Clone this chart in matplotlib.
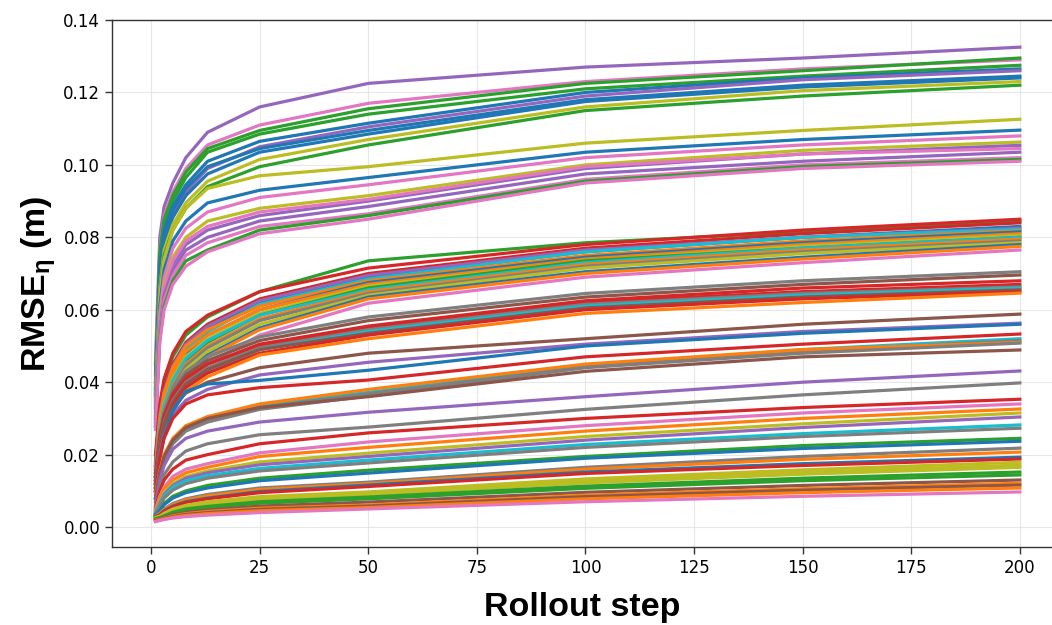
import numpy as np
import matplotlib
matplotlib.use('Agg')
import matplotlib.pyplot as plt

plt.rcParams['mathtext.fontset'] = 'custom'
plt.rcParams['mathtext.rm'] = 'Liberation Sans:bold'
plt.rcParams['mathtext.it'] = 'Liberation Sans:bold'
plt.rcParams['mathtext.default'] = 'rm'

steps = [1, 2, 3, 5, 8, 13, 25, 50, 100, 150, 200]

# RMSE values in units of 1e-4 m, one row per run
upper_runs = [
    [450, 800, 885, 950, 1020, 1090, 1160, 1225, 1270, 1295, 1325],
    [420, 770, 860, 925, 990, 1055, 1110, 1170, 1230, 1265, 1290],
    [400, 760, 850, 915, 980, 1045, 1095, 1155, 1225, 1260, 1295],
    [385, 740, 835, 900, 965, 1035, 1085, 1140, 1210, 1245, 1275],
    [380, 720, 820, 885, 945, 1010, 1065, 1115, 1200, 1240, 1265],
    [365, 700, 800, 865, 925, 990, 1050, 1105, 1190, 1235, 1260],
    [370, 710, 810, 875, 935, 995, 1045, 1095, 1180, 1220, 1245],
    [360, 690, 790, 855, 915, 975, 1035, 1085, 1175, 1215, 1240],
    [350, 660, 765, 835, 895, 955, 1015, 1070, 1160, 1205, 1230],
    [340, 650, 750, 820, 880, 940, 995, 1055, 1150, 1190, 1220],
    [350, 640, 740, 820, 880, 935, 970, 995, 1060, 1095, 1126],
    [330, 610, 710, 790, 845, 895, 930, 965, 1035, 1070, 1096],
    [320, 590, 690, 770, 825, 870, 910, 945, 1020, 1055, 1080],
    [310, 570, 670, 745, 800, 845, 880, 915, 1000, 1040, 1063],
    [300, 550, 650, 725, 780, 820, 860, 900, 990, 1030, 1054],
    [300, 560, 660, 735, 790, 830, 870, 905, 995, 1030, 1045],
    [290, 540, 640, 710, 765, 800, 845, 885, 975, 1010, 1035],
    [280, 530, 625, 695, 750, 785, 830, 865, 960, 1000, 1020],
    [280, 520, 610, 680, 735, 765, 820, 860, 955, 995, 1015],
    [270, 510, 600, 670, 720, 760, 810, 850, 950, 990, 1010],
]
upper_colors = ['purple', 'pink', 'green', 'green', 'blue', 'purple', 'blue',
                'blue', 'olive', 'green', 'olive', 'blue', 'pink', 'olive',
                'purple', 'pink', 'purple', 'pink', 'green', 'pink']

middle_runs = [
    [180, 330, 400, 470, 530, 580, 650, 735, 785, 815, 845],
    [200, 340, 410, 480, 540, 585, 650, 715, 780, 820, 850],
    [170, 310, 380, 450, 510, 560, 630, 700, 770, 810, 840],
    [160, 300, 370, 440, 500, 550, 620, 690, 760, 800, 830],
    [170, 310, 375, 445, 505, 555, 625, 695, 765, 800, 825],
    [150, 290, 360, 430, 490, 540, 615, 685, 760, 800, 822],
    [160, 300, 370, 440, 500, 545, 610, 680, 750, 790, 818],
    [140, 280, 350, 420, 480, 530, 600, 675, 745, 785, 815],
    [150, 290, 355, 425, 485, 530, 600, 670, 740, 780, 810],
    [140, 270, 340, 410, 470, 520, 590, 665, 735, 775, 805],
    [130, 260, 330, 400, 460, 510, 585, 660, 735, 770, 800],
    [140, 270, 335, 405, 465, 515, 585, 655, 730, 770, 800],
    [130, 255, 320, 390, 450, 500, 575, 650, 725, 765, 795],
    [130, 250, 315, 385, 445, 495, 570, 645, 720, 760, 790],
    [120, 240, 305, 375, 435, 485, 560, 640, 715, 755, 785],
    [120, 235, 300, 365, 425, 475, 550, 635, 705, 745, 780],
    [110, 230, 295, 360, 420, 470, 545, 630, 700, 740, 775],
    [100, 215, 280, 340, 400, 450, 530, 618, 690, 730, 765],
]
middle_colors = ['green', 'red', 'red', 'blue', 'purple', 'cyan', 'orange',
                 'blue', 'orange', 'olive', 'green', 'cyan', 'orange', 'gray',
                 'olive', 'blue', 'orange', 'pink']

lower_runs = [
    [150, 260, 320, 380, 430, 470, 525, 580, 645, 680, 705],
    [140, 250, 310, 370, 420, 460, 515, 570, 635, 670, 696],
    [130, 240, 300, 360, 410, 450, 505, 555, 625, 660, 680],
    [140, 250, 305, 365, 410, 450, 500, 550, 620, 650, 670],
    [120, 230, 290, 350, 400, 440, 495, 545, 615, 645, 663],
    [110, 220, 280, 340, 390, 430, 490, 540, 610, 640, 660],
    [120, 225, 285, 345, 395, 435, 490, 535, 605, 635, 655],
    [110, 215, 275, 335, 385, 425, 480, 530, 600, 630, 650],
    [100, 205, 265, 325, 375, 415, 475, 520, 590, 620, 646],
    [120, 220, 280, 330, 370, 400, 440, 480, 520, 560, 588],
    [110, 200, 255, 310, 350, 380, 420, 455, 505, 540, 563],
    [100, 190, 250, 320, 375, 395, 405, 433, 500, 535, 560],
    [100, 190, 245, 300, 340, 365, 385, 406, 470, 505, 533],
    [80, 150, 195, 240, 275, 300, 335, 372, 445, 490, 520],
    [80, 145, 190, 235, 270, 295, 330, 368, 442, 485, 515],
    [90, 155, 200, 245, 280, 305, 340, 380, 450, 490, 510],
    [70, 140, 185, 230, 265, 290, 325, 362, 440, 480, 508],
    [80, 150, 195, 240, 275, 300, 330, 360, 430, 470, 489],
]
lower_colors = ['gray', 'brown', 'red', 'red', 'gray', 'cyan', 'brown', 'red',
                'orange', 'brown', 'purple', 'blue', 'red', 'cyan', 'gray',
                'orange', 'gray', 'brown']

bottom_runs = [
    [60, 130, 170, 215, 245, 265, 290, 317, 360, 400, 431],
    [55, 110, 145, 180, 210, 230, 255, 276, 325, 365, 398],
    [50, 100, 130, 160, 185, 200, 230, 260, 300, 330, 353],
    [48, 85, 110, 140, 160, 175, 205, 235, 280, 315, 340],
    [45, 80, 105, 130, 150, 165, 195, 220, 265, 300, 326],
    [42, 70, 95, 120, 140, 155, 180, 204, 250, 285, 315],
    [40, 65, 90, 115, 135, 150, 172, 195, 240, 275, 304],
    [38, 60, 85, 110, 128, 142, 162, 185, 228, 258, 282],
    [36, 55, 80, 102, 120, 135, 155, 177, 220, 250, 273],
    [34, 45, 65, 85, 100, 115, 135, 157, 195, 225, 245],
    [33, 45, 62, 80, 95, 108, 128, 149, 190, 217, 237],
    [31, 38, 50, 65, 78, 90, 108, 124, 165, 195, 218],
    [30, 37, 48, 62, 75, 86, 104, 120, 160, 187, 207],
    [29, 34, 45, 58, 70, 80, 98, 116, 152, 175, 193],
    [28, 33, 43, 56, 68, 78, 95, 112, 148, 170, 188],
    [26, 30, 38, 50, 60, 70, 84, 97, 133, 158, 179],
    [25, 29, 36, 47, 57, 66, 80, 93, 127, 151, 171],
    [24, 28, 34, 45, 55, 63, 77, 90, 122, 146, 165],
    [23, 26, 31, 41, 50, 57, 70, 83, 113, 135, 152],
    [22, 25, 29, 38, 47, 54, 66, 78, 107, 128, 144],
    [20, 23, 27, 34, 41, 47, 58, 69, 96, 115, 130],
    [19, 21, 25, 31, 37, 43, 52, 61, 88, 106, 121],
    [18, 20, 24, 29, 35, 40, 49, 58, 84, 102, 116],
    [16, 19, 22, 27, 32, 37, 45, 54, 78, 95, 108],
    [15, 18, 21, 25, 29, 33, 40, 50, 70, 85, 97],
]
bottom_colors = ['purple', 'gray', 'red', 'pink', 'orange', 'olive', 'purple',
                 'cyan', 'gray', 'green', 'blue', 'gray', 'orange', 'blue',
                 'red', 'olive', 'olive', 'olive', 'green', 'green', 'brown',
                 'orange', 'brown', 'orange', 'pink']

fig = plt.figure(figsize=(10.52, 6.25), dpi=100)
ax = fig.add_axes([112/1052, 78/625, 940/1052, 527/625])

for runs, cols in [(upper_runs, upper_colors), (middle_runs, middle_colors),
                   (lower_runs, lower_colors), (bottom_runs, bottom_colors)]:
    for vals, c in zip(runs, cols):
        ax.plot(steps, np.array(vals) * 1e-4, color='tab:' + c, lw=2.3)

ax.set_xlim(-9.0, 207.4)
ax.set_ylim(-0.0055, 0.14)
ax.set_xticks(np.arange(0, 201, 25))
ax.set_yticks(np.arange(0, 0.141, 0.02))
ax.yaxis.set_major_formatter(plt.FormatStrFormatter('%.2f'))
ax.grid(True, color='#dddddd', lw=0.8, alpha=0.7)
ax.set_axisbelow(True)
ax.tick_params(labelsize=12, length=5, width=1, color='0.2', top=False, right=False)
for side in ['left', 'bottom', 'top']:
    ax.spines[side].set_color('0.2')
    ax.spines[side].set_linewidth(1.0)
ax.spines['right'].set_visible(False)

ax.set_xlabel('Rollout step', fontsize=24.5, fontweight='bold',
              family='Liberation Sans', labelpad=11)
ax.set_ylabel(r'RMSE$_{η}$ (m)', fontsize=24.5, fontweight='bold',
              family='Liberation Sans', labelpad=4)

fig.savefig('out.png', dpi=100)
